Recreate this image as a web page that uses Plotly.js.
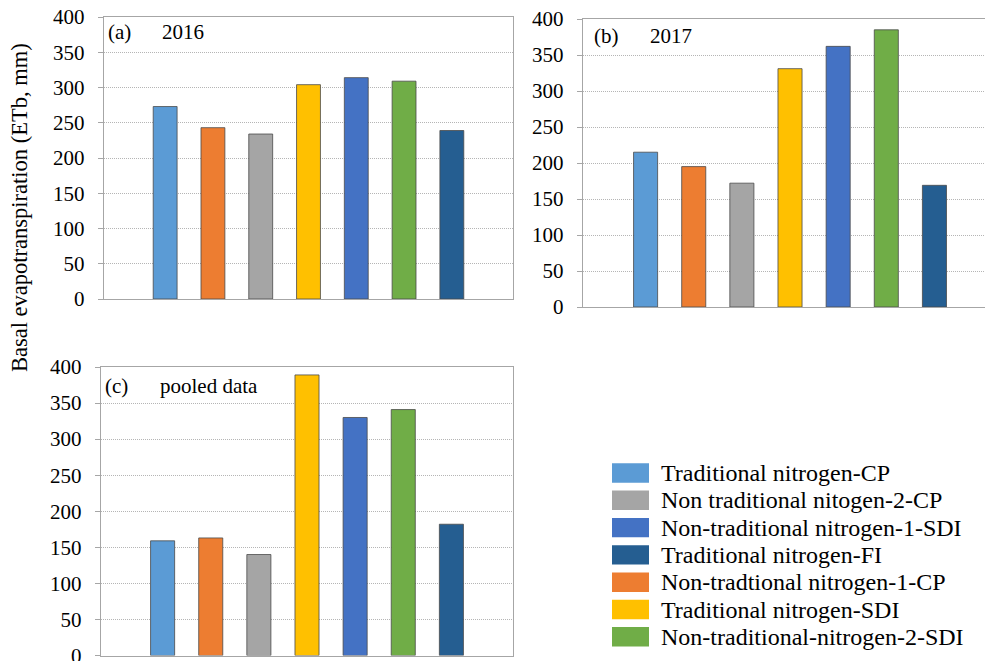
<!DOCTYPE html>
<html>
<head>
<meta charset="utf-8">
<script src="https://cdn.plot.ly/plotly-3.0.1.min.js"></script>
<style>
  html, body { margin: 0; padding: 0; background: #ffffff; }
  #chart { width: 985px; height: 661px; }
</style>
</head>
<body>
<div id="chart"></div>
<script>
// Treatments, in the order the bars are drawn in each panel
const treatments = [
  "Traditional nitrogen-CP",
  "Non-tradtional nitrogen-1-CP",
  "Non traditional nitogen-2-CP",
  "Traditional nitrogen-SDI",
  "Non-traditional nitrogen-1-SDI",
  "Non-traditional-nitrogen-2-SDI",
  "Traditional nitrogen-FI"
];
const treatmentColors = ["#5B9BD5", "#ED7D31", "#A5A5A5", "#FFC000", "#4472C4", "#70AD47", "#255E91"];

// Basal evapotranspiration (ETb, mm)
const etb2016   = [273, 243, 234, 304, 314, 309, 239];
const etb2017   = [215, 195, 172, 331, 362, 385, 169];
const etbPooled = [159, 163, 140, 389, 330, 341, 182];

// Order of the entries in the key
const keyOrder = [0, 2, 4, 6, 1, 3, 5];

const yTicks = [0, 50, 100, 150, 200, 250, 300, 350, 400];

const W = 985, H = 661;
const px = x => x / W;
const py = y => 1 - y / H;
const serif = "Liberation Serif, Times New Roman, serif";

const panels = [
  { values: etb2016,   label: "(a)", tag: "2016",        box: [104, 513, 17, 299],   xr: [-1.28, 7.28], right: true,
    labelPos: [106, 160, 32] },
  { values: etb2017,   label: "(b)", tag: "2017",        box: [583, 985, 19, 307],   xr: [-1.30, 7.05], right: false,
    labelPos: [592, 648, 36] },
  { values: etbPooled, label: "(c)", tag: "pooled data", box: [101, 513, 367, 655.5], xr: [-1.28, 7.28], right: true,
    labelPos: [103, 158, 386] }
];

const traces = [];
const layout = {
  width: W, height: H,
  margin: { l: 0, r: 0, t: 0, b: 0 },
  paper_bgcolor: "#ffffff",
  plot_bgcolor: "#ffffff",
  showlegend: false,
  bargap: 0,
  font: { family: serif, size: 21, color: "#000000" },
  annotations: [],
  shapes: []
};

panels.forEach((p, i) => {
  const n = i === 0 ? "" : String(i + 1);
  traces.push({
    type: "bar",
    x: treatments,
    y: p.values,
    width: 0.5,
    xaxis: "x" + n,
    yaxis: "y" + n,
    marker: { color: treatmentColors, line: { color: "#4a4a4a", width: 0.8 } },
    hoverinfo: "skip"
  });
  const [x0, x1, y0, y1] = p.box;
  layout["xaxis" + n] = {
    domain: [px(x0), Math.min(1, px(x1))],
    anchor: "y" + n,
    type: "category",
    categoryorder: "array",
    categoryarray: treatments,
    range: p.xr,
    showticklabels: false,
    ticks: "",
    showgrid: false,
    zeroline: false,
    showline: true,
    linecolor: "#a6a6a6",
    linewidth: 1.2,
    mirror: true,
    fixedrange: true
  };
  layout["yaxis" + n] = {
    domain: [py(y1), py(y0)],
    anchor: "x" + n,
    range: [0, 400],
    tickvals: yTicks,
    ticktext: yTicks.map(String),
    ticks: "outside",
    ticklen: 5,
    tickcolor: "#a6a6a6",
    ticklabelstandoff: 9,
    ticklabeloverflow: "allow",
    tickfont: { family: serif, size: 21, color: "#000000" },
    showgrid: true,
    gridcolor: "#b5b5b5",
    griddash: "1px,1px",
    gridwidth: 1,
    zeroline: false,
    showline: true,
    linecolor: "#a6a6a6",
    linewidth: 1.2,
    mirror: p.right,
    fixedrange: true
  };
  // Panel letter and subtitle
  layout.annotations.push({
    xref: "paper", yref: "paper", x: px(p.labelPos[0]), y: py(p.labelPos[2]),
    xanchor: "left", yanchor: "middle", showarrow: false,
    text: p.label, font: { family: serif, size: 21, color: "#000000" }
  });
  layout.annotations.push({
    xref: "paper", yref: "paper", x: px(p.labelPos[1]), y: py(p.labelPos[2]),
    xanchor: "left", yanchor: "middle", showarrow: false,
    text: p.tag, font: { family: serif, size: 21, color: "#000000" }
  });
});

// Shared y-axis title
layout.annotations.push({
  xref: "paper", yref: "paper", x: px(20), y: py(208),
  xanchor: "center", yanchor: "middle", showarrow: false, textangle: -90,
  text: "Basal evapotranspiration (ETb, mm)",
  font: { family: serif, size: 22.5, color: "#000000" }
});

// Key: colour swatches with treatment names
keyOrder.forEach((k, row) => {
  const cy = 473 + row * 27.3;
  layout.shapes.push({
    type: "rect", xref: "paper", yref: "paper",
    x0: px(612), x1: px(649), y0: py(cy - 9.7), y1: py(cy + 9.7),
    fillcolor: treatmentColors[k], line: { width: 0 }
  });
  layout.annotations.push({
    xref: "paper", yref: "paper", x: px(659), y: py(cy),
    xanchor: "left", yanchor: "middle", showarrow: false,
    text: treatments[k], font: { family: serif, size: 24, color: "#000000" }
  });
});

Plotly.newPlot("chart", traces, layout, { displayModeBar: false, staticPlot: true });
</script>
</body>
</html>
